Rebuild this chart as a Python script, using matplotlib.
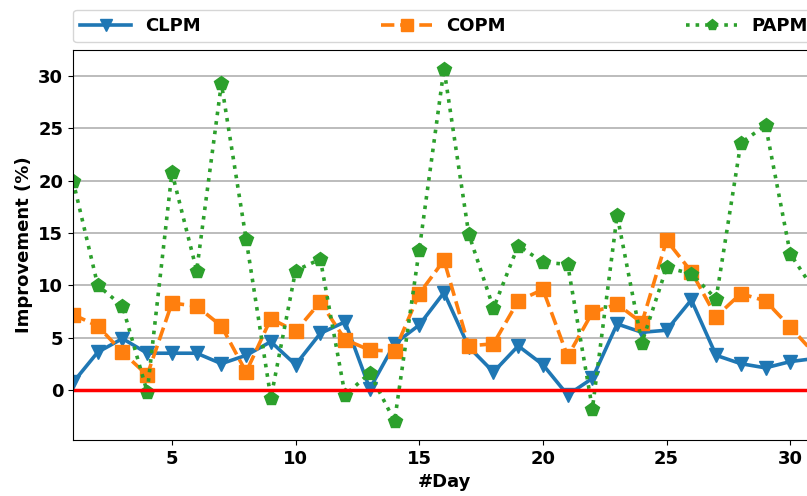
import matplotlib
matplotlib.use('Agg')
import matplotlib.pyplot as plt

# daily improvement values
days = list(range(1, 32))
clpm = [0.7, 3.6, 4.9, 3.5, 3.5, 3.5, 2.5, 3.3, 4.6, 2.4,
        5.4, 6.5, 0.1, 4.4, 6.2, 9.3, 4.1, 1.7, 4.2, 2.4,
        -0.5, 1.1, 6.3, 5.5, 5.7, 8.6, 3.3, 2.5, 2.1, 2.7, 3.0]
copm = [7.2, 6.1, 3.6, 1.4, 8.3, 8.0, 6.1, 1.7, 6.8, 5.6,
        8.4, 4.8, 3.8, 3.7, 9.2, 12.4, 4.2, 4.4, 8.5, 9.6,
        3.2, 7.4, 8.2, 6.4, 14.3, 11.3, 7.0, 9.2, 8.5, 6.0, 3.4]
papm = [20.0, 10.0, 8.0, -0.2, 20.8, 11.4, 29.3, 14.4, -0.8, 11.4,
        12.5, -0.5, 1.6, -3.0, 13.4, 30.7, 14.9, 7.8, 13.8, 12.2,
        12.0, -1.8, 16.7, 4.5, 11.7, 11.1, 8.7, 23.6, 25.3, 13.0, 9.4]

plt.rcParams['font.weight'] = 'bold'
plt.rcParams['axes.labelweight'] = 'bold'
plt.rcParams['font.size'] = 13

fig = plt.figure(figsize=(8.07, 4.96), dpi=100)
#axes run past the right edge like in the cropped original
ax = fig.add_axes([73/807, 56/496, 742/807, 390/496])

ax.plot(days, clpm, '-', marker='v', color='#1f77b4', lw=2.6, ms=10, label='CLPM')
ax.plot(days, copm, '--', marker='s', color='#ff7f0e', lw=2.6, ms=10, label='COPM')
ax.plot(days, papm, ':', marker='p', color='#2ca02c', lw=2.6, ms=10, label='PAPM')
ax.axhline(0, color='red', lw=2.5)

ax.set_xlim(1, 31)
ax.set_ylim(-4.8, 32.5)
ax.set_xticks([5, 10, 15, 20, 25, 30])
ax.set_yticks([0, 5, 10, 15, 20, 25, 30])
ax.yaxis.grid(True, color='#b0b0b0', lw=1.2)
ax.set_axisbelow(True)
ax.set_xlabel('#Day')
ax.set_ylabel('Improvement (%)')

ax.legend(bbox_to_anchor=(0, 1.02, 1, 0.102), loc='lower left', ncol=3,
          mode='expand', borderaxespad=0, handlelength=2.8, markerscale=0.8,
          prop={'weight': 'bold', 'size': 13})

fig.savefig('out.png', dpi=100)
